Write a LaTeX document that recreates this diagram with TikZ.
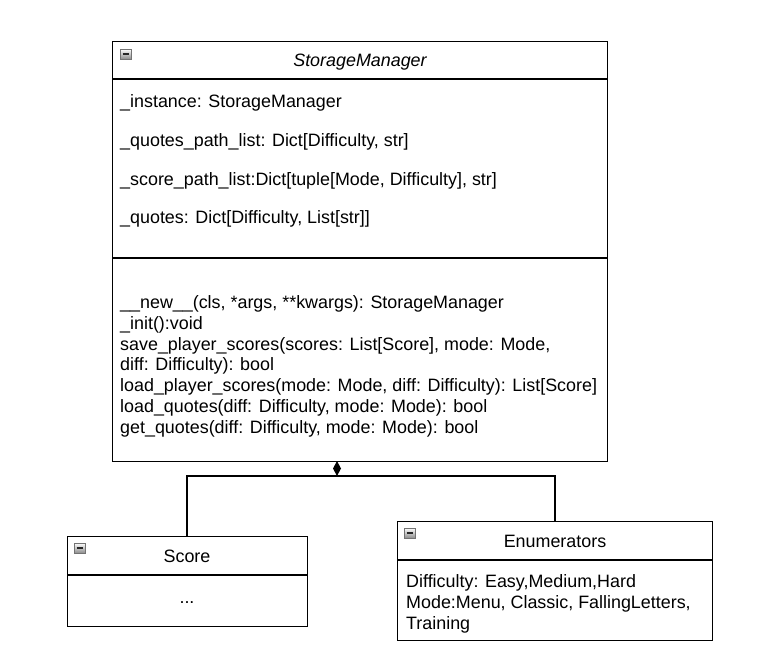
\documentclass[tikz,border=0pt]{standalone}
\usepackage{fontspec}
\setmainfont{Liberation Sans}
\usetikzlibrary{arrows.meta}
\begin{document}
\begin{tikzpicture}[x=1pt,y=-1pt,
  box/.style={draw=black, line width=1.3pt, fill=white, rectangle, inner sep=0pt, anchor=north west},
  txt/.style={anchor=base west, inner sep=0pt, font=\fontsize{17.9}{21}\selectfont},
  ctxt/.style={anchor=base, inner sep=0pt, font=\fontsize{17.9}{21}\selectfont},
  divider/.style={line width=1.3pt},
  conn/.style={line width=1.3pt},
  minusicon/.pic={
    \shade[top color=white, bottom color=black!45, draw=black!55, line width=0.5pt] (0,0) rectangle (11,10);
    \draw[line width=1.6pt, black!85] (2.5,5) -- (8.5,5);
  }
]
\useasboundingbox (0,0) rectangle (769,664);
% StorageManager
\node[box, minimum width=495pt, minimum height=420pt] (sm) at (112,41) {};
\draw[divider] (112,79) -- (607,79);
\draw[divider] (112,258) -- (607,258);
\pic at (120,49) {minusicon};
\node[ctxt, font=\fontsize{17.9}{21}\selectfont\itshape] (smtitle) at (360,66) {StorageManager};
\node[txt] (a1) at (120,107) {\_instance: StorageManager};
\node[txt] (a2) at (120,146) {\_quotes\_path\_list: Dict[Difficulty, str]};
\node[txt] (a3) at (120,185) {\_score\_path\_list:Dict[tuple[Mode, Difficulty], str]};
\node[txt] (a4) at (120,223) {\_quotes: Dict[Difficulty, List[str]]};
\node[txt] (m1) at (120,308) {\_\_new\_\_(cls, *args, **kwargs): StorageManager};
\node[txt] (m2) at (120,329) {\_init():void};
\node[txt] (m3) at (120,350) {save\_player\_scores(scores: List[Score], mode: Mode,};
\node[txt] (m4) at (120,370.5) {diff: Difficulty): bool};
\node[txt] (m5) at (120,391.5) {load\_player\_scores(mode: Mode, diff: Difficulty): List[Score]};
\node[txt] (m6) at (120,412.5) {load\_quotes(diff: Difficulty, mode: Mode): bool};
\node[txt] (m7) at (120,433) {get\_quotes(diff: Difficulty, mode: Mode): bool};
% Score
\node[box, minimum width=240pt, minimum height=90pt] (score) at (67,536) {};
\draw[divider] (67,575) -- (307,575);
\pic at (74,543) {minusicon};
\node[ctxt] (scoretitle) at (187,562) {Score};
\node[ctxt] (scorebody) at (187,603) {...};
% Enumerators
\node[box, minimum width=315pt, minimum height=119pt] (enum) at (397,521) {};
\draw[divider] (397,560) -- (712,560);
\pic at (404,528) {minusicon};
\node[ctxt] (enumtitle) at (555,547) {Enumerators};
\node[txt] (e1) at (406,587) {Difficulty: Easy,Medium,Hard};
\node[txt] (e2) at (406,608) {Mode:Menu, Classic, FallingLetters,};
\node[txt] (e3) at (406,629) {Training};
% connectors
\coordinate (agg) at (337,461);
\coordinate (junc) at (337,476);
\draw[conn] (score.north -| 187,0) |- (junc);
\draw[conn] (enum.north -| 555,0) |- (junc);
\draw[conn, -{Diamond[fill=black, length=15pt, width=8pt]}] (junc) -- (agg);
\end{tikzpicture}
\end{document}
